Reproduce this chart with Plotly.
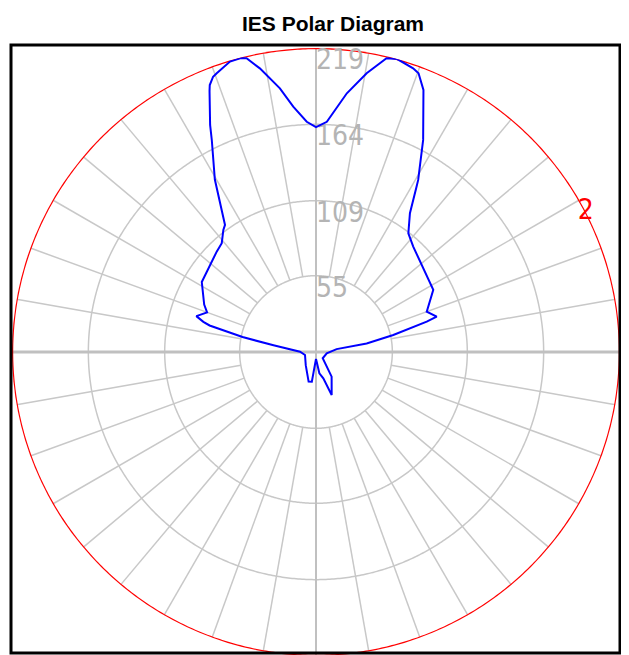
import plotly.graph_objects as go
import numpy as np

# ---- data ----
# angles in degrees, measured clockwise from the top; negative = left half
theta_deg = [-180, -172, -166, -142, -105, -89, -81, -78.5, -76, -75, -73.3, -70, -67,
             -58.5, -44.7, -40.9, -37.2, -35.6, -30.4, -26.2, -25, -22.2, -21.7, -20.5,
             -19.6, -16.5, -14.5, -13.3, -11.2, -7.8, -5.3, -2.3, 0,
             2.7, 6.8, 10.3, 13.5, 15.5, 18.9, 20.2, 22.3, 26.8, 30.7, 31.3, 34.1, 37.9,
             42.7, 62.1, 70, 73.7, 74.7, 77.6, 80.5, 82, 97, 133, 147.6, 160, 164.5, 171,
             176, 180]
candela = [5, 21.6, 22, 12, 8.2, 11.5, 31, 54, 79, 84, 90, 83.5, 87.5,
           96.5, 101.7, 103.7, 110.4, 112.6, 144, 170, 180.5, 203, 207, 211.7,
           213.2, 218.2, 218.6, 217.4, 208.3, 191.7, 177.5, 166, 162,
           166, 187.7, 204.1, 217.6, 219, 216, 213.9, 204, 171.2, 144.2, 139.4, 120.7, 108.3,
           103.3, 95.6, 84.9, 90.6, 82.7, 57, 37, 15, 7.8, 6.6, 21, 33, 19.7, 15.5,
           7, 5]

ring_values = [55, 109, 164, 219]
ring_labels = ["55", "109", "164", "219"]
r_max = 219
spoke_step = 10
plane_label = "2"
plane_label_angle = 62.5
title_text = "IES Polar Diagram"

GRID = "#c8c8c8"
AXIS = "#c0c0c0"
W, H = 629, 655
OFF = 8  # page body margin offset
LABEL_FONT = "Liberation Sans Narrow, DejaVu Sans Condensed, Liberation Sans, Arial, sans-serif"

fig = go.Figure()

# spokes (from the first ring outwards)
sp_r, sp_t = [], []
for a in range(spoke_step, 360, spoke_step):
    if a % 90 == 0:
        continue
    sp_r += [ring_values[0], r_max, None]
    sp_t += [a, a, None]
fig.add_trace(go.Scatterpolar(r=sp_r, theta=sp_t, mode="lines",
                              line=dict(color=GRID, width=1.5),
                              hoverinfo="skip", showlegend=False, connectgaps=False))

# inner rings
circ_t = np.linspace(0, 360, 721)
for v in ring_values[:-1]:
    fig.add_trace(go.Scatterpolar(r=[v] * len(circ_t), theta=circ_t, mode="lines",
                                  line=dict(color=GRID, width=1.5),
                                  hoverinfo="skip", showlegend=False))

# main axes
fig.add_trace(go.Scatterpolar(r=[r_max, 0, r_max], theta=[0, 0, 180], mode="lines",
                              line=dict(color=AXIS, width=2),
                              hoverinfo="skip", showlegend=False))
fig.add_trace(go.Scatterpolar(r=[r_max, 0, r_max], theta=[90, 90, 270], mode="lines",
                              line=dict(color=AXIS, width=3),
                              hoverinfo="skip", showlegend=False))

# outer red ring
fig.add_trace(go.Scatterpolar(r=[r_max] * len(circ_t), theta=circ_t, mode="lines",
                              line=dict(color="#ff0000", width=2.5),
                              hoverinfo="skip", showlegend=False))

# ring labels
fig.add_trace(go.Scatterpolar(r=ring_values, theta=[0] * len(ring_values), mode="text",
                              text=ring_labels, textposition="bottom right",
                              textfont=dict(family=LABEL_FONT, size=28, color="#b4b4b4"),
                              hoverinfo="skip", showlegend=False))

# plane label
fig.add_trace(go.Scatterpolar(r=[r_max], theta=[plane_label_angle], mode="text",
                              text=[plane_label], textposition="middle center",
                              textfont=dict(family=LABEL_FONT, size=28, color="#ff0000"),
                              hoverinfo="skip", showlegend=False))

# intensity curve
fig.add_trace(go.Scatterpolar(r=candela, theta=theta_deg, mode="lines",
                              line=dict(color="#0000ff", width=2),
                              showlegend=False))

fig.update_layout(
    width=W, height=H,
    margin=dict(l=0, r=0, t=0, b=0),
    paper_bgcolor="white",
    title=dict(text="<b>" + title_text + "</b>", x=(333 - OFF) / W, xanchor="center",
               y=1 - (24 - OFF) / H, yanchor="middle",
               font=dict(family="Liberation Sans, Arial, sans-serif", size=21, color="black")),
    polar=dict(
        domain=dict(x=[(12 - OFF) / W, (620 - OFF) / W],
                    y=[1 - (656 - OFF) / H, 1 - (48 - OFF) / H]),
        bgcolor="white",
        radialaxis=dict(range=[0, r_max], showgrid=False, showline=False,
                        showticklabels=False, ticks=""),
        angularaxis=dict(rotation=90, direction="clockwise", showgrid=False,
                         showline=False, showticklabels=False, ticks=""),
    ),
    shapes=[dict(type="rect", xref="paper", yref="paper",
                 x0=(11 - OFF) / W, x1=(620 - OFF) / W,
                 y0=1 - (653 - OFF) / H, y1=1 - (45 - OFF) / H,
                 line=dict(color="black", width=3), layer="above")],
)

fig.write_html("out.html")
